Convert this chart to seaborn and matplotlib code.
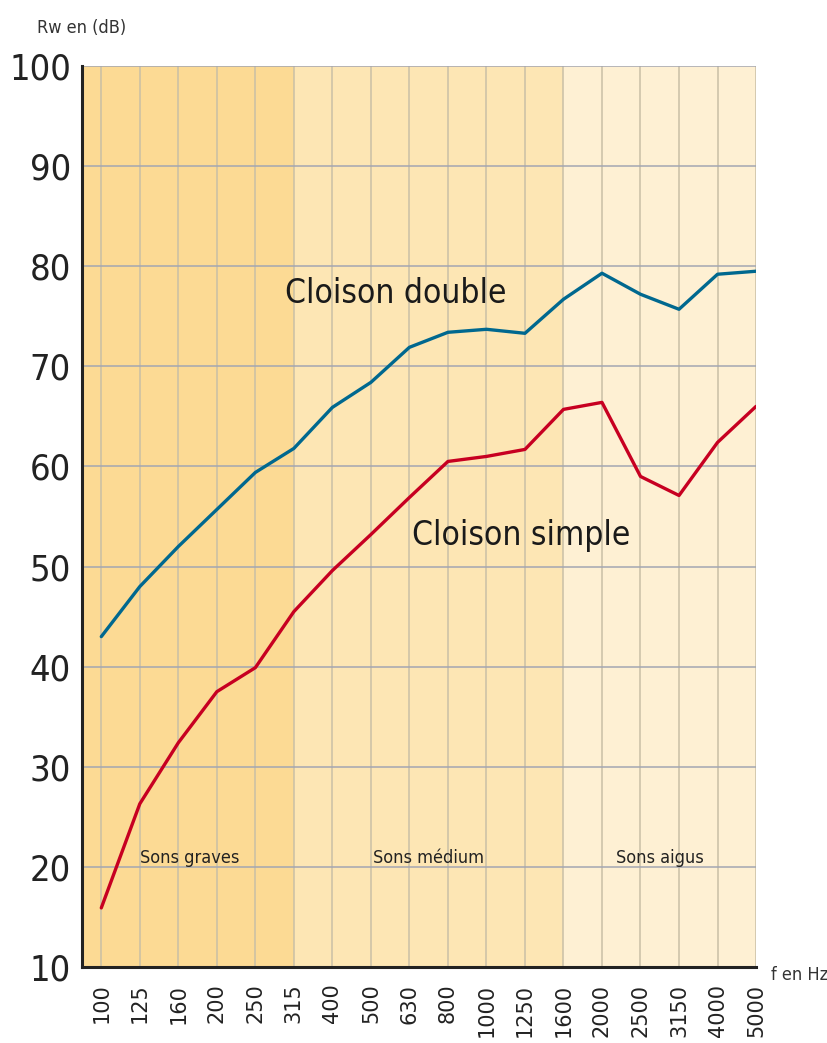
import numpy as np
import pandas as pd
import matplotlib
matplotlib.use('Agg')
import matplotlib.pyplot as plt
import seaborn as sns

# ========================================
# 데이터
# ========================================
freqs = ['100', '125', '160', '200', '250', '315', '400', '500', '630', '800',
         '1000', '1250', '1600', '2000', '2500', '3150', '4000', '5000']
cloison_double = [43.0, 48.0, 52.0, 55.7, 59.4, 61.8, 65.9, 68.4, 71.9, 73.4,
                  73.7, 73.3, 76.7, 79.3, 77.2, 75.7, 79.2, 79.5]
cloison_simple = [15.9, 26.3, 32.4, 37.5, 39.9, 45.5, 49.6, 53.2, 56.9, 60.5,
                  61.0, 61.7, 65.7, 66.4, 59.0, 57.1, 62.4, 66.0]
zones = ['Sons graves', 'Sons médium', 'Sons aigus']
zone_bounds = [(-0.5, 5), (5, 12), (12, 17)]
zone_colors = ['#FCDA94', '#FDE6B4', '#FEF0D3']
y_ticks = [10, 20, 30, 40, 50, 60, 70, 80, 90, 100]

BLUE = '#00688F'
RED = '#C70021'

sns.set_style('white')
plt.rcParams['font.family'] = ['DejaVu Sans']
plt.rcParams['font.stretch'] = 'condensed'

x = np.arange(len(freqs))
df = pd.DataFrame({
    'x': np.concatenate([x, x]),
    'Rw': cloison_double + cloison_simple,
    'serie': ['Cloison double'] * len(x) + ['Cloison simple'] * len(x),
})

fig = plt.figure(figsize=(8.27, 10.43), dpi=100)
ax = fig.add_axes([0.0992, 0.0729, 0.815, 0.8638])

# 배경 구간
for (a, b), c in zip(zone_bounds, zone_colors):
    ax.axvspan(a, b, color=c, zorder=0, lw=0)

# 그리드
for xi in x:
    ax.axvline(xi, color='#C9BFA6', lw=1.1, zorder=1)
for yi in y_ticks[1:]:
    ax.axhline(yi, color='#A3A6B2', lw=1.1, zorder=1)

sns.lineplot(data=df, x='x', y='Rw', hue='serie',
             palette={'Cloison double': BLUE, 'Cloison simple': RED},
             lw=2.4, legend=False, ax=ax, zorder=3)

ax.set_xlim(-0.5, 17)
ax.set_ylim(10, 100)
ax.set_xticks(x)
ax.set_xticklabels(freqs, rotation=90, fontsize=15, color='#222222',
                   fontstretch='normal')
ax.set_yticks(y_ticks)
ax.set_yticklabels([str(v) for v in y_ticks], fontsize=26, color='#222222')
ax.tick_params(axis='x', direction='in', length=16, width=1.8, color='#222222', pad=12)
ax.tick_params(axis='y', direction='in', length=11, width=2.2, color='#222222', pad=8)
ax.set_xlabel('')
ax.set_ylabel('')

for s in ['top', 'right']:
    ax.spines[s].set_visible(False)
for s in ['left', 'bottom']:
    ax.spines[s].set_color('#222222')
    ax.spines[s].set_linewidth(2.2)

# 텍스트
ax.text(7.64, 77.3, 'Cloison double', fontsize=24, color='#1a1a1a', ha='center', va='center')
ax.text(10.9, 53.1, 'Cloison simple', fontsize=24, color='#1a1a1a', ha='center', va='center')
zone_x = [2.3, 8.5, 14.5]
for zx, z in zip(zone_x, zones):
    ax.text(zx, 20.9, z, fontsize=13, color='#222222', ha='center', va='center')

fig.text(0.045, 0.973, 'Rw en (dB)', fontsize=13, color='#333333', ha='left', va='center')
fig.text(0.932, 0.065, 'f en Hz', fontsize=13, color='#333333', ha='left', va='center')

plt.savefig('out.png', dpi=100)
plt.close()
